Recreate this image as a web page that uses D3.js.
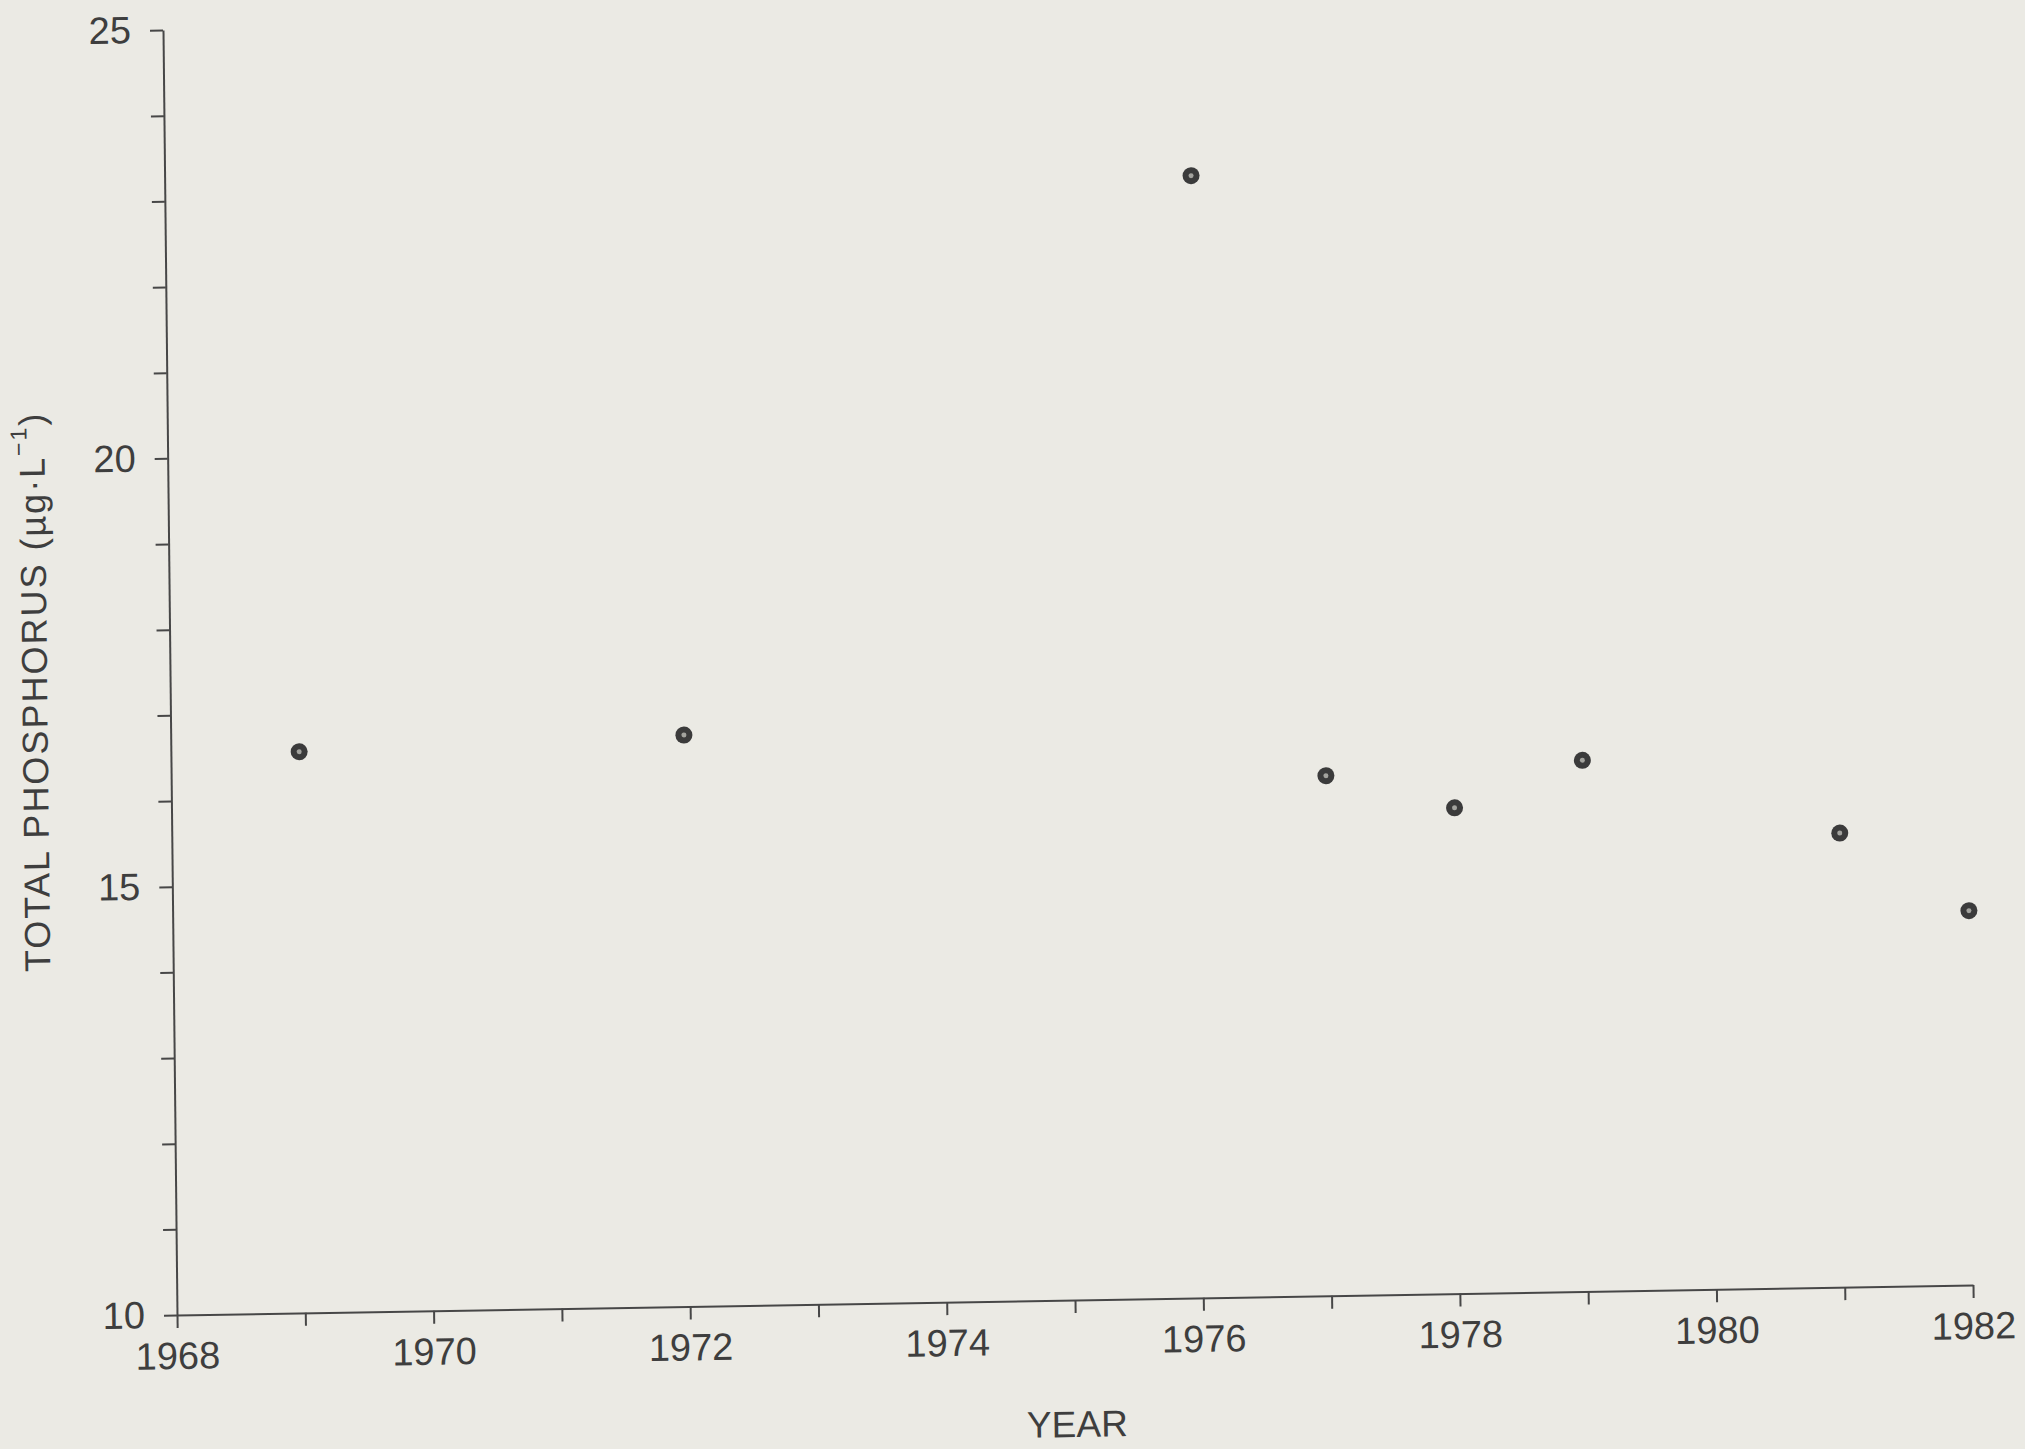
<!DOCTYPE html>
<meta charset="utf-8">
<script src="https://d3js.org/d3.v7.min.js"></script>
<style>
  body { margin: 0; background: #ebeae4; }
  text { font-family: "Liberation Sans", Arial, Helvetica, sans-serif; fill: #3e3e3e; }
</style>
<div id="chart"></div>
<script>
// values
var years  = [1969, 1972, 1976, 1977, 1978, 1979, 1981, 1982];
var totalP = [16.55, 16.67, 23.10, 16.07, 15.67, 16.20, 15.30, 14.37];

var xTicks = d3.range(1968, 1983);          // one tick per year
var xTickLabels = [1968, 1970, 1972, 1974, 1976, 1978, 1980, 1982];
var yTicks = d3.range(10, 26);              // one tick per unit
var yTickLabels = [10, 15, 20, 25];

var W = 2025, H = 1449;
var margin = {left: 177, bottom: 134},
    width = 1796,
    height = 1285;

var svg = d3.select("#chart")
  .append("svg")
    .attr("width", W)
    .attr("height", H);

svg.append("rect")
  .attr("width", W)
  .attr("height", H)
  .attr("fill", "#ebeae4");

// the scan is slightly skewed, so the plot frame is sheared a little
var g = svg.append("g")
  .attr("transform",
        "translate(" + margin.left + "," + (H - margin.bottom) + ")" +
        " matrix(1,-0.0167,0.0109,1,0,0)" +
        " translate(0," + (-height) + ")");

var x = d3.scaleLinear()
  .domain([1968, 1982])
  .range([0, width]);

var y = d3.scaleLinear()
  .domain([10, 25])
  .range([height, 0]);

// X axis
var xAxis = g.append("g")
  .attr("transform", "translate(0," + height + ")")
  .call(d3.axisBottom(x)
    .tickValues(xTicks)
    .tickSize(13)
    .tickSizeOuter(0)
    .tickPadding(14)
    .tickFormat(function(d) { return xTickLabels.indexOf(d) >= 0 ? d : ""; }));

// Y axis
var yAxis = g.append("g")
  .call(d3.axisLeft(y)
    .tickValues(yTicks)
    .tickSize(13)
    .tickSizeOuter(0)
    .tickPadding(19)
    .tickFormat(function(d) { return yTickLabels.indexOf(d) >= 0 ? d : ""; }));

[xAxis, yAxis].forEach(function(a) {
  a.selectAll("path, line")
    .attr("stroke", "#474747")
    .attr("stroke-width", 2);
  a.selectAll("text")
    .style("font-size", "38px")
    .attr("fill", "#3e3e3e");
});

// axis titles
g.append("text")
  .attr("text-anchor", "middle")
  .attr("x", width / 2 + 1)
  .attr("y", height + 137)
  .style("font-size", "37px")
  .text("YEAR");

var yt = g.append("text")
  .attr("text-anchor", "middle")
  .attr("dominant-baseline", "central")
  .attr("transform", "translate(-136," + (height / 2 + 17) + ") rotate(-90)")
  .style("font-size", "36px")
  .style("letter-spacing", "2px");
yt.append("tspan").text("TOTAL PHOSPHORUS (\u00b5g\u00b7L");
yt.append("tspan")
  .attr("baseline-shift", "super")
  .style("font-size", "23px")
  .text("\u22121");
yt.append("tspan").text(")");

// points
var pts = g.append("g")
  .selectAll("g")
  .data(years)
  .enter()
  .append("g")
    .attr("transform", function(d, i) {
      return "translate(" + x(d) + "," + y(totalP[i]) + ")";
    });

pts.append("circle")
  .attr("r", 8.5)
  .attr("fill", "#3b3b3b");

pts.append("circle")
  .attr("r", 2.5)
  .attr("fill", "#a3a39e");
</script>
